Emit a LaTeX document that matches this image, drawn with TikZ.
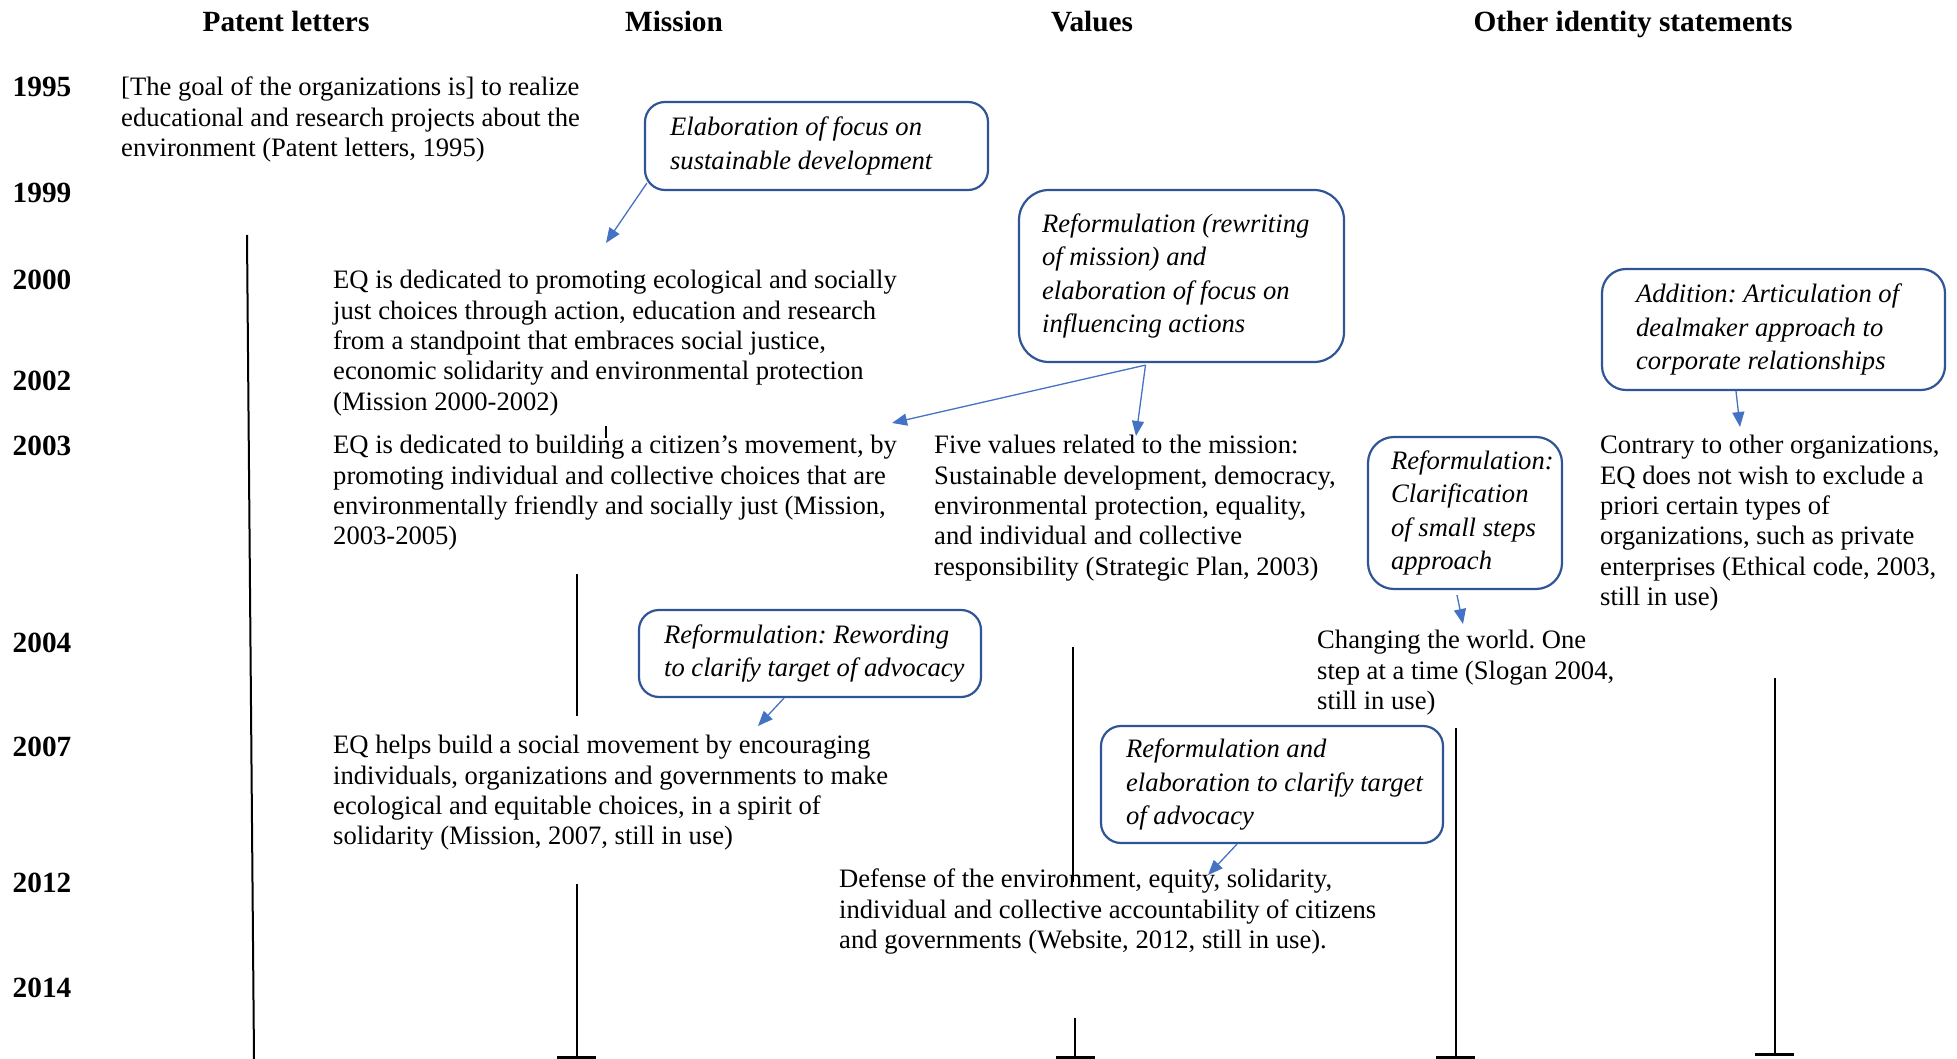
\documentclass[tikz,border=0pt]{standalone}
\usepackage{fontspec}
\setmainfont{Liberation Serif}
\frenchspacing
\usetikzlibrary{arrows.meta}

\definecolor{boxblue}{RGB}{47,85,151}
\definecolor{arrowblue}{RGB}{68,114,196}

\tikzset{
  colhead/.style={anchor=base, inner sep=0pt, font=\fontsize{29.3}{33}\selectfont\bfseries},
  yearlabel/.style={anchor=base west, inner sep=0pt, font=\fontsize{29.3}{33}\selectfont\bfseries},
  statement/.style={anchor=north west, align=left, inner sep=0pt, font=\fontsize{26.6}{30.4}\selectfont},
  changebox/.style={draw=boxblue, line width=2.2pt, rounded corners=20pt, inner sep=0pt},
  changetext/.style={anchor=west, align=left, inner sep=0pt, font=\fontsize{26.6}{33.1}\selectfont\itshape},
  changearrow/.style={draw=arrowblue, line width=1.3pt, -{Triangle[length=15pt,width=12pt]}},
  period/.style={line width=2pt},
  periodend/.style={line width=3pt},
}

\begin{document}
\begin{tikzpicture}[x=1pt,y=-1pt]
    \useasboundingbox (0,0) rectangle (1957,1059);

    % column heads
    \node[colhead] (hpatent) at (286,32) {Patent letters};
    \node[colhead] (hmission) at (674,32) {Mission};
    \node[colhead] (hvalues) at (1092,32) {Values};
    \node[colhead] (hother) at (1633,32) {Other identity statements};

    % years
    \node[yearlabel] (y1995) at (12.5,97) {1995};
    \node[yearlabel] (y1999) at (12.5,203) {1999};
    \node[yearlabel] (y2000) at (12.5,290) {2000};
    \node[yearlabel] (y2002) at (12.5,390) {2002};
    \node[yearlabel] (y2003) at (12.5,455) {2003};
    \node[yearlabel] (y2004) at (12.5,652) {2004};
    \node[yearlabel] (y2007) at (12.5,756) {2007};
    \node[yearlabel] (y2012) at (12.5,892) {2012};
    \node[yearlabel] (y2014) at (12.5,997) {2014};

    % periods of use
    \draw[period] (247,235) -- (254,1059);
    \draw[period] (577,574) -- (577,716);
    \draw[period] (577,884) -- (577,1057);
    \draw[periodend] (557,1057) -- (596,1057);
    \draw[period] (1073,647) -- (1073,882);
    \draw[period] (1075,1018) -- (1075,1057);
    \draw[periodend] (1056,1057) -- (1095,1057);
    \draw[period] (1456,728) -- (1456,1057);
    \draw[periodend] (1436,1057) -- (1475,1057);
    \draw[period] (1775,678) -- (1775,1054);
    \draw[periodend] (1755,1054) -- (1794,1054);
    \draw[line width=1.3pt] (606,426) -- (606,438);

    % statements
    \node[statement] (patent95) at (121,77) {[The goal of the organizations is] to realize\\educational and research projects about the\\environment (Patent letters, 1995)};
    \node[statement] (mission00) at (333,270) {EQ is dedicated to promoting ecological and socially\\just choices through action, education and research\\from a standpoint that embraces social justice,\\economic solidarity and environmental protection\\(Mission 2000-2002)};
    \node[statement] (mission03) at (333,435) {EQ is dedicated to building a citizen’s movement, by\\promoting individual and collective choices that are\\environmentally friendly and socially just (Mission,\\2003-2005)};
    \node[statement] (values03) at (934,435) {Five values related to the mission:\\Sustainable development, democracy,\\environmental protection, equality,\\and individual and collective\\responsibility (Strategic Plan, 2003)};
    \node[statement] (other03) at (1600,435) {Contrary to other organizations,\\EQ does not wish to exclude a\\priori certain types of\\organizations, such as private\\enterprises (Ethical code, 2003,\\still in use)};
    \node[statement] (slogan04) at (1317,630) {Changing the world. One\\step at a time (Slogan 2004,\\still in use)};
    \node[statement] (mission07) at (333,735) {EQ helps build a social movement by encouraging\\individuals, organizations and governments to make\\ecological and equitable choices, in a spirit of\\solidarity (Mission, 2007, still in use)};
    \node[statement] (values12) at (839,869) {Defense of the environment, equity, solidarity,\\individual and collective accountability of citizens\\and governments (Website, 2012, still in use).};

    % changes
    \node[changebox, minimum width=343pt, minimum height=88pt] (b1) at (816.5,146) {};
    \node[changetext] (b1text) at ([xshift=26pt]b1.west) {Elaboration of focus on\\sustainable development};
    \node[changebox, rounded corners=30pt, minimum width=325pt, minimum height=172pt] (b2) at (1181.5,276) {};
    \node[changetext] (b2text) at ([xshift=24pt]b2.west) {Reformulation (rewriting\\of mission) and\\elaboration of focus on\\influencing actions};
    \node[changebox, rounded corners=26pt, minimum width=194pt, minimum height=152pt] (b3) at (1465,513) {};
    \node[changetext] (b3text) at ([xshift=24pt]b3.west) {Reformulation:\\Clarification\\of small steps\\approach};
    \node[changebox, rounded corners=24pt, minimum width=343pt, minimum height=121pt] (b4) at (1773.5,329.5) {};
    \node[changetext] (b4text) at ([xshift=35pt]b4.west) {Addition: Articulation of\\dealmaker approach to\\corporate relationships};
    \node[changebox, minimum width=342pt, minimum height=87pt] (b5) at (810,653.5) {};
    \node[changetext] (b5text) at ([xshift=26pt]b5.west) {Reformulation: Rewording\\to clarify target of advocacy};
    \node[changebox, minimum width=342pt, minimum height=117pt] (b6) at (1272,784.5) {};
    \node[changetext] (b6text) at ([xshift=26pt]b6.west) {Reformulation and\\elaboration to clarify target\\of advocacy};

    \coordinate (e1) at (606,243);
    \coordinate (e2) at (892,423);
    \coordinate (e3) at (1136,436);
    \coordinate (e4) at (1463,624);
    \coordinate (e5) at (1740,427);
    \coordinate (e6) at (758,726);
    \coordinate (e7) at (1208,875);
    \draw[changearrow] ([xshift=3pt,yshift=8pt]b1.south west) -- (e1);
    \draw[changearrow] ([xshift=-36pt,yshift=-2pt]b2.south) -- (e2);
    \draw[changearrow] ([xshift=-36pt,yshift=-2pt]b2.south) -- (e3);
    \draw[changearrow] ([xshift=-8pt,yshift=-5pt]b3.south) -- (e4);
    \draw[changearrow] ([xshift=-37.5pt]b4.south) -- (e5);
    \draw[changearrow] ([xshift=-26pt]b5.south) -- (e6);
    \draw[changearrow] ([xshift=-35pt]b6.south) -- (e7);
\end{tikzpicture}
\end{document}
